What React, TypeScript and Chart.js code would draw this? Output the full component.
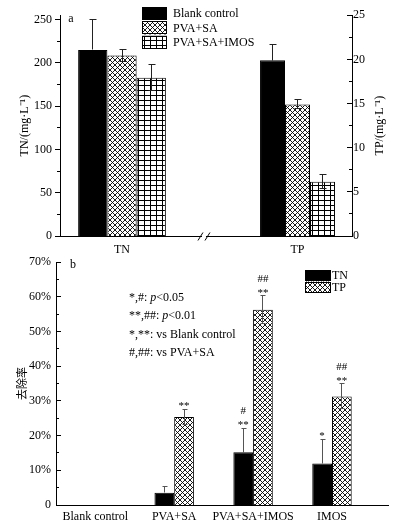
import React, { useEffect, useRef } from "react";
import { Chart, registerables } from "chart.js";

Chart.register(...registerables);

const SERIF = "'Liberation Serif', 'Times New Roman', serif";
const CJK = "'Noto Sans CJK SC', 'Liberation Serif', sans-serif";

// ---------- Panel a ----------
const groupLabelsA = ["TN", "TP"];
const treatmentsA = ["Blank control", "PVA+SA", "PVA+SA+IMOS"];
const tnConc = [215, 208.5, 183];
const tnConcErr = [35, 7, 15];
const tpConc = [19.9, 14.9, 6.15];
const tpConcErr = [1.8, 0.5, 0.77];
const tnAxisTicks = [0, 50, 100, 150, 200, 250];
const tnAxisMinor = [25, 75, 125, 175, 225];
const tpAxisTicks = [0, 5, 10, 15, 20, 25];
const tpAxisMinor = [2.5, 7.5, 12.5, 17.5, 22.5];

// ---------- Panel b ----------
const categoriesB = ["Blank control", "PVA+SA", "PVA+SA+IMOS", "IMOS"];
const seriesB = ["TN", "TP"];
const tnRemoval = [0, 3.5, 15.2, 12.0];
const tnRemovalErr = [0, 1.8, 6.9, 7.0];
const tpRemoval = [0, 25.4, 56.3, 31.3];
const tpRemovalErr = [0, 2.2, 4.0, 3.6];
const tnSigHash = ["", "", "#", ""];
const tnSigStar = ["", "", "**", "*"];
const tpSigHash = ["", "", "##", "##"];
const tpSigStar = ["", "**", "**", "**"];
const removalTicks = [0, 10, 20, 30, 40, 50, 60, 70];
const removalMinor = [5, 15, 25, 35, 45, 55, 65];
const noteLines: Array<Array<[string, boolean]>> = [
  [["*,#: ", false], ["p", true], ["<0.05", false]],
  [["**,##: ", false], ["p", true], ["<0.01", false]],
  [["*,**: vs Blank control", false]],
  [["#,##: vs PVA+SA", false]],
];

function makeCrossHatch(): CanvasPattern {
  const s = 5;
  const c = document.createElement("canvas");
  c.width = s;
  c.height = s;
  const g = c.getContext("2d")!;
  g.fillStyle = "#fff";
  g.fillRect(0, 0, s, s);
  g.strokeStyle = "#000";
  g.lineWidth = 0.9;
  g.beginPath();
  for (let k = -1; k <= 1; k++) {
    g.moveTo(k * s - 1, -1);
    g.lineTo(k * s + s + 1, s + 1);
    g.moveTo(k * s + s + 1, -1);
    g.lineTo(k * s - 1, s + 1);
  }
  g.stroke();
  return g.createPattern(c, "repeat")!;
}

function makeGridHatch(): CanvasPattern {
  const w = 6;
  const h = 5;
  const c = document.createElement("canvas");
  c.width = w;
  c.height = h;
  const g = c.getContext("2d")!;
  g.fillStyle = "#fff";
  g.fillRect(0, 0, w, h);
  g.fillStyle = "#000";
  g.fillRect(0, 0, 1, h);
  g.fillRect(0, 0, w, 1);
  return g.createPattern(c, "repeat")!;
}

const al = (v: number) => Math.round(v - 0.5) + 0.5;

type TickSpec = {
  axis: string;
  side: "left" | "right";
  major: number[];
  minor: number[];
  majorLen: number;
  minorLen: number;
  inward: boolean;
};

function axisTicksPlugin(id: string, specs: TickSpec[]) {
  return {
    id,
    afterDraw(chart: any) {
      const { ctx, chartArea } = chart;
      ctx.save();
      ctx.strokeStyle = "#000";
      ctx.lineWidth = 1;
      for (const s of specs) {
        const scale = chart.scales[s.axis];
        const edge = s.side === "left" ? chartArea.left : chartArea.right;
        const col = Math.round(edge - 0.5);
        const dir = (s.side === "left" ? 1 : -1) * (s.inward ? 1 : -1);
        const draw = (v: number, len: number) => {
          const y = al(scale.getPixelForValue(v));
          ctx.beginPath();
          if (dir > 0) {
            ctx.moveTo(col, y);
            ctx.lineTo(col + 1 + len, y);
          } else {
            ctx.moveTo(col + 1, y);
            ctx.lineTo(col - len, y);
          }
          ctx.stroke();
        };
        s.major.forEach((v) => draw(v, s.majorLen));
        s.minor.forEach((v) => draw(v, s.minorLen));
      }
      ctx.restore();
    },
  };
}

function errorBarsPlugin(id: string, errs: number[][], color: string, capHalf: number, lower: boolean[]) {
  return {
    id,
    afterDatasetsDraw(chart: any) {
      const ctx = chart.ctx;
      ctx.save();
      ctx.strokeStyle = color;
      ctx.lineWidth = 1;
      chart.data.datasets.forEach((_: any, di: number) => {
        const meta = chart.getDatasetMeta(di);
        const ys = chart.scales[meta.yAxisID];
        meta.data.forEach((el: any, pi: number) => {
          const e = errs[di] ? errs[di][pi] : 0;
          const p = meta.controller.getParsed(pi);
          if (!e || p == null || p.y == null) return;
          const x = al(el.x);
          const yt = al(ys.getPixelForValue(p.y + e));
          const ym = al(ys.getPixelForValue(p.y));
          const yb = al(ys.getPixelForValue(p.y - e));
          ctx.beginPath();
          ctx.moveTo(x, yt);
          ctx.lineTo(x, lower[di] ? yb : ym);
          ctx.moveTo(x - capHalf, yt);
          ctx.lineTo(x + capHalf + 1, yt);
          if (lower[di]) {
            ctx.moveTo(x - capHalf, yb);
            ctx.lineTo(x + capHalf + 1, yb);
          }
          ctx.stroke();
        });
      });
      ctx.restore();
    },
  };
}

type LegendCfg = { x: number; y: number; step: number; w: number; h: number; textX: number; size: number };

function boxLegendPlugin(id: string, datasetIdx: number[], cfg: LegendCfg) {
  return {
    id,
    afterDraw(chart: any) {
      const ctx = chart.ctx;
      ctx.save();
      datasetIdx.forEach((di, i) => {
        const ds = chart.data.datasets[di];
        const y = cfg.y + cfg.step * i;
        ctx.fillStyle = ds.backgroundColor;
        ctx.fillRect(cfg.x, y, cfg.w, cfg.h);
        ctx.strokeStyle = "#000";
        ctx.lineWidth = 1;
        ctx.strokeRect(Math.round(cfg.x) + 0.5, Math.round(y) + 0.5, Math.round(cfg.w) - 1, Math.round(cfg.h) - 1);
        ctx.fillStyle = "#000";
        ctx.font = `${cfg.size}px ${SERIF}`;
        ctx.textAlign = "left";
        ctx.textBaseline = "middle";
        ctx.fillText(ds.label, cfg.textX, y + cfg.h / 2 + 0.5);
      });
      ctx.restore();
    },
  };
}

function drawPlugin(id: string, fn: (ctx: CanvasRenderingContext2D, chart: any) => void) {
  return {
    id,
    afterDraw(chart: any) {
      const ctx = chart.ctx;
      ctx.save();
      fn(ctx, chart);
      ctx.restore();
    },
  };
}

export default function App() {
  const topRef = useRef<HTMLCanvasElement | null>(null);
  const botRef = useRef<HTMLCanvasElement | null>(null);

  useEffect(() => {
    const cross = makeCrossHatch();
    const grid = makeGridHatch();
    const fillsA: any[] = ["#000000", cross, grid];
    const tickFont = { family: SERIF, size: 12 };

    // ----- Panel a -----
    const datasetsA: any[] = [
      ...treatmentsA.map((t, i) => ({
        label: t,
        yAxisID: "yTN",
        data: groupLabelsA.map((_, g) => ({ x: g, y: g === 0 ? tnConc[i] : null })),
        backgroundColor: fillsA[i],
        borderColor: "#000",
        borderWidth: 1,
        categoryPercentage: 0.5,
        barPercentage: 1,
        skipNull: true,
      })),
      ...treatmentsA.map((t, i) => ({
        label: t,
        yAxisID: "yTP",
        data: groupLabelsA.map((_, g) => ({ x: g, y: g === 1 ? tpConc[i] : null })),
        backgroundColor: fillsA[i],
        borderColor: "#000",
        borderWidth: 1,
        categoryPercentage: 0.427,
        barPercentage: 1,
        skipNull: true,
      })),
    ];
    const errsA = [
      ...treatmentsA.map((_, i) => [tnConcErr[i], 0]),
      ...treatmentsA.map((_, i) => [0, tpConcErr[i]]),
    ];

    const chartA = new Chart(topRef.current!, {
      type: "bar",
      data: { datasets: datasetsA },
      options: {
        responsive: false,
        animation: false,
        events: [],
        layout: { padding: { top: 15, left: 0, right: 0, bottom: 0 } },
        plugins: { legend: { display: false }, tooltip: { enabled: false } },
        scales: {
          x: {
            type: "linear",
            min: -0.3533,
            max: 1.3105,
            offset: false,
            grid: { display: false, drawTicks: false },
            border: { display: true, color: "#000", width: 1 },
            afterBuildTicks: (s: any) => {
              s.ticks = groupLabelsA.map((_, i) => ({ value: i }));
            },
            afterFit: (s: any) => {
              s.height = 22;
            },
            ticks: {
              callback: (v: any) => groupLabelsA[v] ?? "",
              padding: 7,
              font: tickFont,
              color: "#000",
              maxRotation: 0,
              autoSkip: false,
            },
          },
          yTN: {
            type: "linear",
            position: "left",
            min: 0,
            max: 255.2,
            grid: { display: false, drawTicks: false },
            border: { display: true, color: "#000", width: 1 },
            afterBuildTicks: (s: any) => {
              s.ticks = tnAxisTicks.map((v) => ({ value: v }));
            },
            afterFit: (s: any) => {
              s.width = 60;
            },
            ticks: { padding: 8, font: tickFont, color: "#000" },
            title: {
              display: true,
              text: "TN/(mg·L⁻¹)",
              color: "#000",
              font: { family: SERIF, size: 12 },
              padding: { top: 18, bottom: 0 },
            },
          },
          yTP: {
            type: "linear",
            position: "right",
            min: 0,
            max: 25,
            grid: { display: false, drawTicks: false },
            border: { display: true, color: "#000", width: 1 },
            afterBuildTicks: (s: any) => {
              s.ticks = tpAxisTicks.map((v) => ({ value: v }));
            },
            afterFit: (s: any) => {
              s.width = 46;
            },
            ticks: { padding: 1, font: tickFont, color: "#000" },
          },
        },
      } as any,
      plugins: [
        axisTicksPlugin("ticksA", [
          { axis: "yTN", side: "left", major: tnAxisTicks, minor: tnAxisMinor, majorLen: 5, minorLen: 3, inward: false },
          { axis: "yTP", side: "right", major: tpAxisTicks, minor: tpAxisMinor, majorLen: 5, minorLen: 3, inward: true },
        ]),
        errorBarsPlugin("errA", errsA, "#222", 3, [false, true, true, false, true, true]),
        boxLegendPlugin("legA", [0, 1, 2], { x: 142, y: 7, step: 14.4, w: 25, h: 13, textX: 173, size: 12 }),
        drawPlugin("textA", (ctx, chart) => {
          const ca = chart.chartArea;
          ctx.fillStyle = "#000";
          ctx.font = `12px ${SERIF}`;
          ctx.textAlign = "center";
          ctx.textBaseline = "middle";
          ctx.fillText("a", 71, 19);
          // right axis title, reading bottom-to-top
          ctx.save();
          ctx.translate(380, (ca.top + ca.bottom) / 2);
          ctx.rotate(-Math.PI / 2);
          ctx.fillText("TP/(mg·L⁻¹)", 0, 0);
          ctx.restore();
          // axis break mark
          const xs = chart.scales.x;
          const bx = xs.getPixelForValue(0.467);
          const by = Math.round(ca.bottom - 0.5) + 0.5;
          ctx.fillStyle = "#fff";
          ctx.fillRect(bx - 2, by - 1, 4, 2);
          ctx.strokeStyle = "#000";
          ctx.lineWidth = 1;
          ctx.beginPath();
          ctx.moveTo(bx - 6, by + 4);
          ctx.lineTo(bx - 1, by - 4);
          ctx.moveTo(bx + 1, by + 4);
          ctx.lineTo(bx + 6, by - 4);
          ctx.stroke();
        }),
      ],
    });

    // ----- Panel b -----
    const fillsB: any[] = ["#000000", cross];
    const valsB = [tnRemoval, tpRemoval];
    const errsBSrc = [tnRemovalErr, tpRemovalErr];
    const datasetsB: any[] = seriesB.map((s, si) => ({
      label: s,
      data: categoriesB.map((_, i) => ({ x: i, y: valsB[si][i] })),
      backgroundColor: fillsB[si],
      borderColor: "#000",
      borderWidth: 1,
      categoryPercentage: 0.5,
      barPercentage: 1,
    }));
    const sigHash = [tnSigHash, tpSigHash];
    const sigStar = [tnSigStar, tpSigStar];

    const chartB = new Chart(botRef.current!, {
      type: "bar",
      data: { datasets: datasetsB },
      options: {
        responsive: false,
        animation: false,
        events: [],
        layout: { padding: { top: 9, left: 0, right: 10, bottom: 0 } },
        plugins: { legend: { display: false }, tooltip: { enabled: false } },
        scales: {
          x: {
            type: "linear",
            min: -0.498,
            max: 3.71,
            offset: false,
            grid: { display: false, drawTicks: false },
            border: { display: true, color: "#000", width: 1 },
            afterBuildTicks: (s: any) => {
              s.ticks = categoriesB.map((_, i) => ({ value: i }));
            },
            afterFit: (s: any) => {
              s.height = 24;
            },
            ticks: {
              callback: (v: any) => categoriesB[v] ?? "",
              padding: 5,
              font: tickFont,
              color: "#000",
              maxRotation: 0,
              autoSkip: false,
            },
          },
          y: {
            type: "linear",
            position: "left",
            min: 0,
            max: 70,
            grid: { display: false, drawTicks: false },
            border: { display: true, color: "#000", width: 1 },
            afterBuildTicks: (s: any) => {
              s.ticks = removalTicks.map((v) => ({ value: v }));
            },
            afterFit: (s: any) => {
              s.width = 56;
            },
            ticks: {
              padding: 5,
              font: tickFont,
              color: "#000",
              callback: (v: any) => (v === 0 ? "0" : `${v}%`),
            },
            title: {
              display: true,
              text: "去除率",
              color: "#000",
              font: { family: CJK, size: 11 },
              padding: { top: 15, bottom: 0 },
            },
          },
        },
      } as any,
      plugins: [
        axisTicksPlugin("ticksB", [
          { axis: "y", side: "left", major: removalTicks, minor: removalMinor, majorLen: 4, minorLen: 2, inward: true },
        ]),
        errorBarsPlugin("errB", errsBSrc, "#555", 2, [false, true]),
        boxLegendPlugin("legB", [0, 1], { x: 305, y: 20, step: 11.5, w: 26, h: 11, textX: 332, size: 12 }),
        drawPlugin("textB", (ctx, chart) => {
          const ca = chart.chartArea;
          ctx.fillStyle = "#000";
          ctx.font = `12px ${SERIF}`;
          ctx.textAlign = "center";
          ctx.textBaseline = "middle";
          ctx.fillText("b", 73, 15);
          // significance marks
          ctx.font = `11px ${SERIF}`;
          ctx.textBaseline = "alphabetic";
          chart.data.datasets.forEach((_: any, di: number) => {
            const meta = chart.getDatasetMeta(di);
            const ys = chart.scales[meta.yAxisID];
            meta.data.forEach((el: any, pi: number) => {
              const v = valsB[di][pi];
              const e = errsBSrc[di][pi];
              const starBase = ys.getPixelForValue(v + e);
              if (sigStar[di][pi]) ctx.fillText(sigStar[di][pi], el.x, starBase);
              if (sigHash[di][pi]) ctx.fillText(sigHash[di][pi], el.x, starBase - 14);
            });
          });
          // statistics note
          ctx.textAlign = "left";
          ctx.textBaseline = "middle";
          noteLines.forEach((segs, li) => {
            let x = ca.left + 73;
            const y = ca.top + 36 + 18.1 * li;
            segs.forEach(([t, it]) => {
              ctx.font = `${it ? "italic " : ""}12px ${SERIF}`;
              ctx.fillText(t, x, y);
              x += ctx.measureText(t).width;
            });
          });
        }),
      ],
    });

    return () => {
      chartA.destroy();
      chartB.destroy();
    };
  }, []);

  return (
    <div style={{ position: "absolute", left: 0, top: 0, width: 398, height: 529, background: "#fff" }}>
      <canvas ref={botRef} width={398} height={279} style={{ position: "absolute", left: 0, top: 250 }} />
      <canvas ref={topRef} width={398} height={258} style={{ position: "absolute", left: 0, top: 0 }} />
    </div>
  );
}
